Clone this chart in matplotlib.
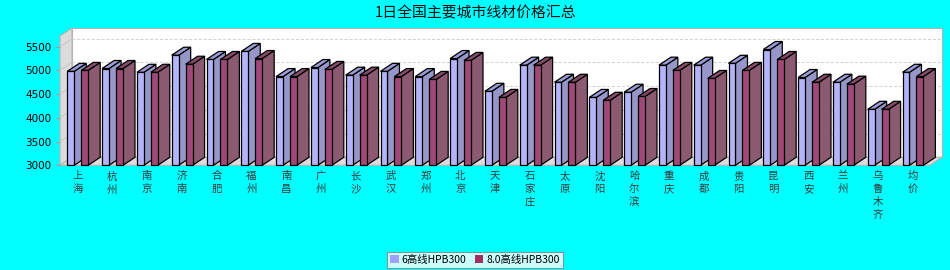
import matplotlib
matplotlib.use("Agg")
import matplotlib.pyplot as plt
import matplotlib.transforms as mtransforms
from matplotlib.patches import Rectangle, Polygon, Patch
from matplotlib.lines import Line2D

plt.rcParams['font.family'] = ['Noto Sans CJK SC', 'DejaVu Sans']

title = "1日全国主要城市线材价格汇总"
cities = ["上海", "杭州", "南京", "济南", "合肥", "福州", "南昌", "广州", "长沙", "武汉",
          "郑州", "北京", "天津", "石家庄", "太原", "沈阳", "哈尔滨", "重庆", "成都", "贵阳",
          "昆明", "西安", "兰州", "乌鲁木齐", "均价"]
series_names = ["6高线HPB300", "8.0高线HPB300"]
s1 = [4980, 5040, 4960, 5320, 5230, 5400, 4870, 5060, 4900, 4980,
      4870, 5250, 4560, 5110, 4750, 4430, 4540, 5110, 5110, 5150,
      5440, 4850, 4750, 4180, 4960]
s2 = [5000, 5040, 4960, 5130, 5230, 5250, 4870, 5020, 4900, 4870,
      4810, 5210, 4430, 5110, 4750, 4370, 4450, 5000, 4830, 5000,
      5230, 4750, 4710, 4180, 4870]
yticks = [3000, 3500, 4000, 4500, 5000, 5500]

W, H = 950, 270
fig = plt.figure(figsize=(W / 100, H / 100), dpi=100, facecolor='#00ffff')

left_px, right_px, bot_px, top_px = 60, 930, 165.3, 36
ax = fig.add_axes([left_px / W, (H - bot_px) / H, (right_px - left_px) / W, (bot_px - top_px) / H])
ymin, ymax = 3000, 5725
n = len(cities)
xmin, xmax = -0.5, n - 0.5
ax.set_xlim(xmin, xmax)
ax.set_ylim(ymin, ymax)
ax.patch.set_visible(False)
for s in ax.spines.values():
    s.set_visible(False)

# depth offsets in data units
px_per_x = (right_px - left_px) / n
px_per_y = (bot_px - top_px) / (ymax - ymin)
ddx = 12 / px_per_x
ddy = 8 / px_per_y

wall_c = '#dcdcdc'
edge_c = '#b4b4b4'
# back wall
ax.add_patch(Polygon([(xmin + ddx, ymin + ddy), (xmax + ddx, ymin + ddy), (xmax + ddx, ymax + ddy),
                      (xmin + ddx, ymax + ddy)], closed=True, facecolor='white', edgecolor=edge_c,
                     lw=0.8, clip_on=False, zorder=1))
# left wall
ax.add_patch(Polygon([(xmin, ymin), (xmin, ymax), (xmin + ddx, ymax + ddy), (xmin + ddx, ymin + ddy)],
                     closed=True, facecolor=wall_c, edgecolor=edge_c, lw=0.8, clip_on=False, zorder=1))
# floor
ax.add_patch(Polygon([(xmin, ymin), (xmax, ymin), (xmax + ddx, ymin + ddy), (xmin + ddx, ymin + ddy)],
                     closed=True, facecolor=wall_c, edgecolor=edge_c, lw=0.8, clip_on=False, zorder=1))
# grid lines
for v in yticks[1:]:
    ax.add_line(Line2D([xmin + ddx, xmax + ddx], [v + ddy, v + ddy], color='#d0d0d0', lw=0.7,
                       ls=(0, (3, 2)), clip_on=False, zorder=2))
    ax.add_line(Line2D([xmin, xmin + ddx], [v, v + ddy], color='#c4c4c4', lw=0.7,
                       clip_on=False, zorder=2))

colors = [
    dict(front='#b4b4fc', side='#9696c8', top='#9c9cd8'),
    dict(front='#a04878', side='#8c5a70', top='#874b6a'),
]
bw = 0.2
offsets = [-0.29, 0.11]
z = 3
for i in range(n):
    for k, vals in enumerate([s1, s2]):
        h = vals[i]
        x0 = i + offsets[k]
        c = colors[k]
        side = [(x0 + bw, ymin), (x0 + bw + ddx, ymin + ddy), (x0 + bw + ddx, h + ddy), (x0 + bw, h)]
        top = [(x0, h), (x0 + bw, h), (x0 + bw + ddx, h + ddy), (x0 + ddx, h + ddy)]
        ax.add_patch(Polygon(side, closed=True, facecolor=c['side'], edgecolor='black', lw=0.9,
                             clip_on=False, zorder=z))
        ax.add_patch(Polygon(top, closed=True, facecolor=c['top'], edgecolor='black', lw=0.9,
                             clip_on=False, zorder=z))
        ax.add_patch(Rectangle((x0, ymin), bw, h - ymin, facecolor=c['front'], edgecolor='black',
                               lw=0.9, clip_on=False, zorder=z + 0.5))
        z += 1

ax.set_yticks(yticks)
ax.set_yticklabels([str(v) for v in yticks], fontsize=7.5, family=['DejaVu Sans'])
ax.tick_params(axis='y', length=3, color='#c09090', pad=3, width=0.8)
ax.set_xticks([])

off = mtransforms.ScaledTranslation(0, -6 / 100, fig.dpi_scale_trans)
for i, name in enumerate(cities):
    ax.text(i, ymin, "\n".join(name), transform=ax.transData + off, ha='center', va='top',
            fontsize=7.5, color='#3a3a3a', linespacing=1.35)

fig.text(476 / W, 1 - 13 / H, title, ha='center', va='center', fontsize=10.7, color='#111111')

handles = [Patch(facecolor='#a0a0ff', edgecolor='none'), Patch(facecolor='#a0305f', edgecolor='none')]
leg = fig.legend(handles, series_names, loc='lower center', bbox_to_anchor=(0.5, 2 / H), ncol=2,
                 fontsize=7.5, frameon=True, fancybox=False, edgecolor='#808080',
                 handlelength=0.8, handleheight=0.8, borderpad=0.3, columnspacing=0.8,
                 handletextpad=0.3, borderaxespad=0)
leg.get_frame().set_linewidth(0.8)

fig.savefig('out.png', dpi=100, facecolor=fig.get_facecolor())
